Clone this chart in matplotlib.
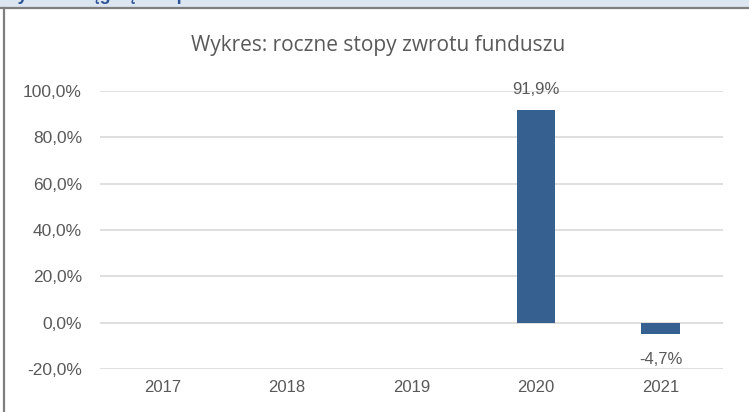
import matplotlib
matplotlib.use("Agg")
import matplotlib.pyplot as plt
from matplotlib.lines import Line2D
from matplotlib.patches import Rectangle

# Annual fund returns (%)
years = ["2017", "2018", "2019", "2020", "2021"]
returns = [None, None, None, 91.9, -4.7]
y_ticks = [-20, 0, 20, 40, 60, 80, 100]

title = "Wykres: roczne stopy zwrotu funduszu"
header = "Wyniki osiągnięte w przeszłości"

TEXT = "#595959"
BAR = "#35608f"
GRID = "#d9d9d9"


def pl_pct(v):
    return f"{v:.1f}".replace(".", ",") + "%"


fig = plt.figure(figsize=(7.49, 4.12), dpi=100)
fig.patch.set_facecolor("white")

# Section header band, clipped by the top edge of the page
fig.add_artist(Rectangle((0, 1 - 7.5 / 412), 1, 7.5 / 412, transform=fig.transFigure,
                         facecolor="#dce6f1", edgecolor="none", zorder=0))
fig.text(0.002, 1 + 0.5 / 412, header, ha="left", va="baseline",
         fontsize=13, fontweight="bold", color="#2f5597",
         family="Liberation Sans", zorder=1)
fig.add_artist(Line2D([0, 1], [1 - 8 / 412, 1 - 8 / 412], transform=fig.transFigure,
                      color="#7f7f7f", lw=1.6, zorder=2))
fig.add_artist(Line2D([4 / 749, 4 / 749], [0, 1 - 8 / 412], transform=fig.transFigure,
                      color="#7f7f7f", lw=1.6, zorder=2))

ax = fig.add_axes([100 / 749, (412 - 369) / 412, 623 / 749, (369 - 91) / 412])
ax.set_xlim(-0.5, len(years) - 0.5)
ax.set_ylim(-20, 100)

xs = list(range(len(years)))
for x, v in zip(xs, returns):
    if v is None:
        continue
    ax.bar(x, v, width=0.31, color=BAR, zorder=3)
    if v >= 0:
        ax.annotate(pl_pct(v), (x, v), xytext=(0, 9), textcoords="offset points",
                    ha="center", va="bottom", fontsize=12, color=TEXT,
                    family="Liberation Sans", zorder=4)
    else:
        ax.annotate(pl_pct(v), (x, v), xytext=(0, -13), textcoords="offset points",
                    ha="center", va="top", fontsize=12, color=TEXT,
                    family="Liberation Sans", zorder=4)

ax.set_yticks(y_ticks)
ax.set_yticklabels([pl_pct(t) for t in y_ticks])
ax.set_xticks(xs)
ax.set_xticklabels(years)
ax.tick_params(axis="both", length=0, labelcolor=TEXT)
ax.tick_params(axis="y", pad=13, labelsize=12.5)
ax.tick_params(axis="x", pad=8, labelsize=12)
for lbl in ax.get_xticklabels() + ax.get_yticklabels():
    lbl.set_family("Liberation Sans")

ax.grid(axis="y", color=GRID, lw=1.2, zorder=0)
ax.set_axisbelow(True)
for s in ax.spines.values():
    s.set_visible(False)

fig.text(378 / 749, 1 - 45 / 412, title, ha="center", va="center",
         fontsize=15, color=TEXT, family="Open Sans")

fig.savefig("out.png", dpi=100, facecolor="white")
